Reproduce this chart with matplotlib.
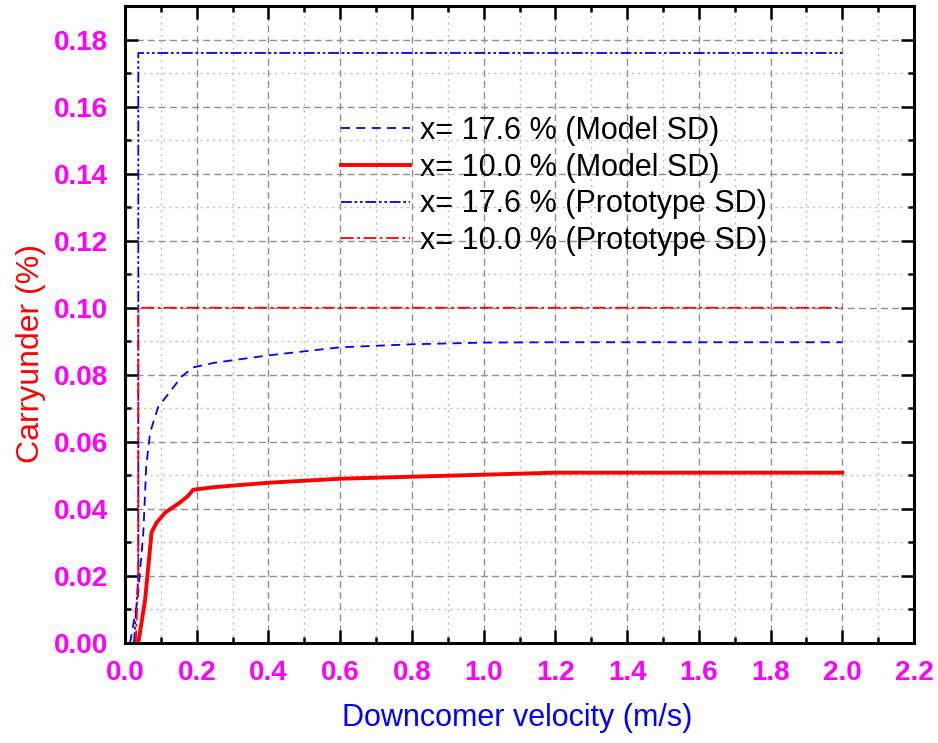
import matplotlib
matplotlib.use("Agg")
import matplotlib.pyplot as plt
from matplotlib.ticker import MultipleLocator

plt.rcParams['font.family'] = ['Liberation Sans', 'DejaVu Sans']

# Data
v_model176 = [0.014, 0.035, 0.051, 0.059, 0.070, 0.092, 0.158, 0.19, 0.25, 0.4, 0.6, 0.8, 1.0, 1.2, 1.6, 2.0]
c_model176 = [0.0, 0.0129, 0.0329, 0.0526, 0.0628, 0.0703, 0.0795, 0.0822, 0.0836, 0.0858, 0.0882, 0.0891, 0.0896, 0.0897, 0.0897, 0.0897]

v_model100 = [0.037, 0.056, 0.074, 0.088, 0.112, 0.153, 0.174, 0.19, 0.25, 0.4, 0.6, 0.8, 1.0, 1.2, 1.6, 2.0]
c_model100 = [0.0, 0.0129, 0.033, 0.0359, 0.0389, 0.0419, 0.0437, 0.0457, 0.0465, 0.0478, 0.0490, 0.0496, 0.0502, 0.0508, 0.0508, 0.0508]

v_proto176 = [0.025, 0.037, 0.037, 2.0]
c_proto176 = [0.0, 0.02, 0.176, 0.176]

v_proto100 = [0.03, 0.037, 0.037, 2.0]
c_proto100 = [0.0, 0.02, 0.100, 0.100]

labels = ["x= 17.6 % (Model SD)", "x= 10.0 % (Model SD)",
          "x= 17.6 % (Prototype SD)", "x= 10.0 % (Prototype SD)"]

fig = plt.figure(figsize=(9.38, 7.43), dpi=100)
ax = fig.add_axes([0.1333, 0.1346, 0.9744 - 0.1333, 0.9919 - 0.1346])

ax.plot(v_model176, c_model176, color='blue', lw=1.3, ls=(0, (5, 3.5)), label=labels[0])
ax.plot(v_model100, c_model100, color='red', lw=2.8, ls='-', label=labels[1])
ax.plot(v_proto176, c_proto176, color='blue', lw=1.3, ls=(0, (6, 1.5, 1.5, 1.5, 1.5, 1.5)), label=labels[2])
ax.plot(v_proto100, c_proto100, color='red', lw=1.3, ls=(0, (7, 2, 1.5, 2)), label=labels[3])

ax.set_xlim(0, 2.2)
ax.set_ylim(0, 0.19)
ax.xaxis.set_major_locator(MultipleLocator(0.2))
ax.xaxis.set_minor_locator(MultipleLocator(0.1))
ax.yaxis.set_major_locator(MultipleLocator(0.02))
ax.yaxis.set_minor_locator(MultipleLocator(0.01))
ax.xaxis.set_major_formatter(matplotlib.ticker.FormatStrFormatter('%.1f'))
ax.yaxis.set_major_formatter(matplotlib.ticker.FormatStrFormatter('%.2f'))

ax.grid(which='major', color='#909090', ls=(0, (5, 3)), lw=1.0)
ax.grid(which='minor', color='#c0c0c0', ls=(0, (1.5, 3)), lw=1.0)
ax.set_axisbelow(True)

ax.tick_params(which='both', direction='in', top=True, right=True, width=1.8, color='black')
ax.tick_params(which='major', length=9.5, labelsize=20, labelcolor='magenta', pad=12)
ax.tick_params(which='minor', length=4.5)
for lab in ax.get_xticklabels() + ax.get_yticklabels():
    lab.set_fontweight('bold')
for s in ax.spines.values():
    s.set_linewidth(2.2)

xl = ax.set_xlabel("Downcomer velocity (m/s)", fontsize=22, color='blue')
yl = ax.set_ylabel("Carryunder (%)", fontsize=23, color='red')
ax.xaxis.set_label_coords(0.4975, -0.118)
ax.yaxis.set_label_coords(-0.119, 0.455)
xl.set_va('center')
yl.set_va('center')

leg = ax.legend(loc='upper left', bbox_to_anchor=(0.2738, 0.8276), frameon=False,
                fontsize=22, handlelength=2.27, handletextpad=0.33,
                labelspacing=0.22, borderpad=0.0, borderaxespad=0.0)

fig.savefig("out.png", dpi=100)
